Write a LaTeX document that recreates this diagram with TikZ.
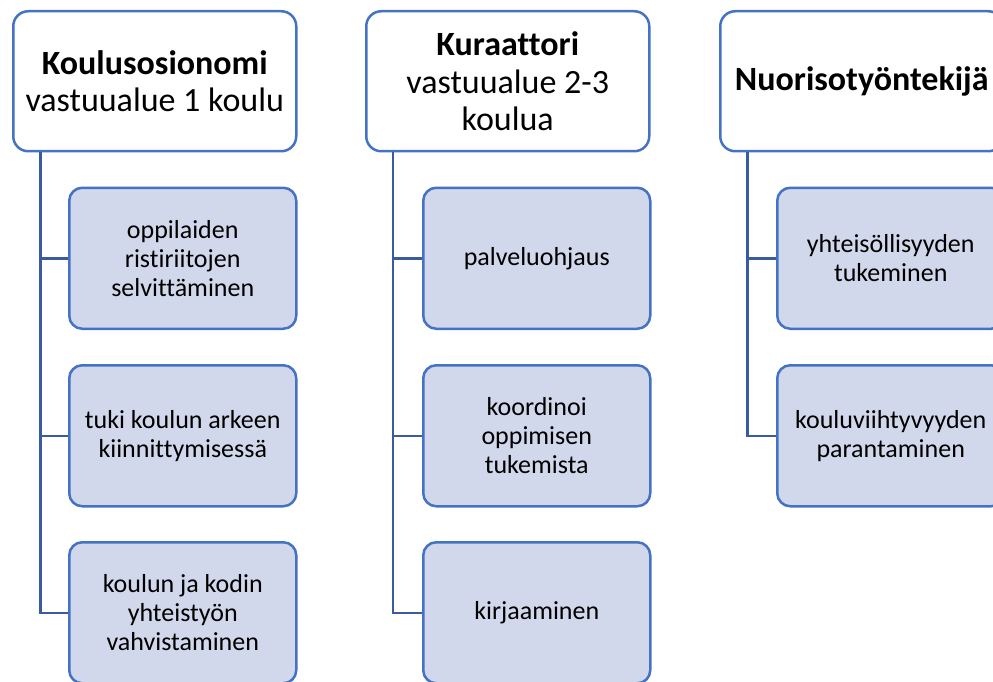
\documentclass[tikz,border=0pt]{standalone}
\usepackage{fontspec}
\setmainfont{Carlito}[Ligatures={NoCommon}]
\definecolor{bordc}{HTML}{4472C4}
\definecolor{connc}{HTML}{3A5BA0}
\definecolor{fillc}{HTML}{D1D8EB}
\tikzset{
  headbox/.style={draw=bordc, line width=2.5pt, fill=white, rounded corners=15pt,
    minimum width=283pt, minimum height=140pt, anchor=north west, align=center,
    inner sep=0pt, font=\fontsize{34}{37.5}\selectfont},
  childbox/.style={draw=bordc, line width=2.5pt, fill=fillc, rounded corners=13pt,
    minimum width=227pt, minimum height=141pt, anchor=north west, align=center,
    inner sep=0pt, font=\fontsize{26}{29}\selectfont},
  conn/.style={draw=connc, line width=2.5pt}
}
\begin{document}
\begin{tikzpicture}[x=1pt,y=-1pt]
\useasboundingbox (0,0) rectangle (993,682);
\clip (0,0) rectangle (993,682);
% headers
\node[headbox] (h1) at (12,10) {\textbf{Koulusosionomi}\\vastuualue 1 koulu};
\node[headbox] (h2) at (365,10) {\textbf{Kuraattori}\\vastuualue 2-3\\koulua};
\node[headbox] (h3) at (719,10) {\textbf{Nuorisotyöntekijä}};
% column 1
\node[childbox] (c11) at (68,186.5) {oppilaiden\\ristiriitojen\\selvittäminen};
\node[childbox] (c12) at (68,364) {tuki koulun arkeen\\kiinnittymisessä};
\node[childbox] (c13) at (68,541) {koulun ja kodin\\yhteistyön\\vahvistaminen};
% column 2
\node[childbox] (c21) at (422,186.5) {palveluohjaus};
\node[childbox] (c22) at (422,364) {koordinoi\\oppimisen\\tukemista};
\node[childbox] (c23) at (422,541) {kirjaaminen};
% column 3
\node[childbox] (c31) at (776,186.5) {yhteisöllisyyden\\tukeminen};
\node[childbox] (c32) at (776,364) {kouluviihtyvyyden\\parantaminen};
% connectors
\coordinate (v1) at ([xshift=28.5pt]h1.south west);
\coordinate (v2) at ([xshift=28pt]h2.south west);
\coordinate (v3) at ([xshift=28.5pt]h3.south west);
\draw[conn] (v1) |- (c11.west);
\draw[conn] (v1) |- (c12.west);
\draw[conn] (v1) |- (c13.west);
\draw[conn] (v2) |- (c21.west);
\draw[conn] (v2) |- (c22.west);
\draw[conn] (v2) |- (c23.west);
\draw[conn] (v3) |- (c31.west);
\draw[conn] (v3) |- (c32.west);
\end{tikzpicture}
\end{document}
